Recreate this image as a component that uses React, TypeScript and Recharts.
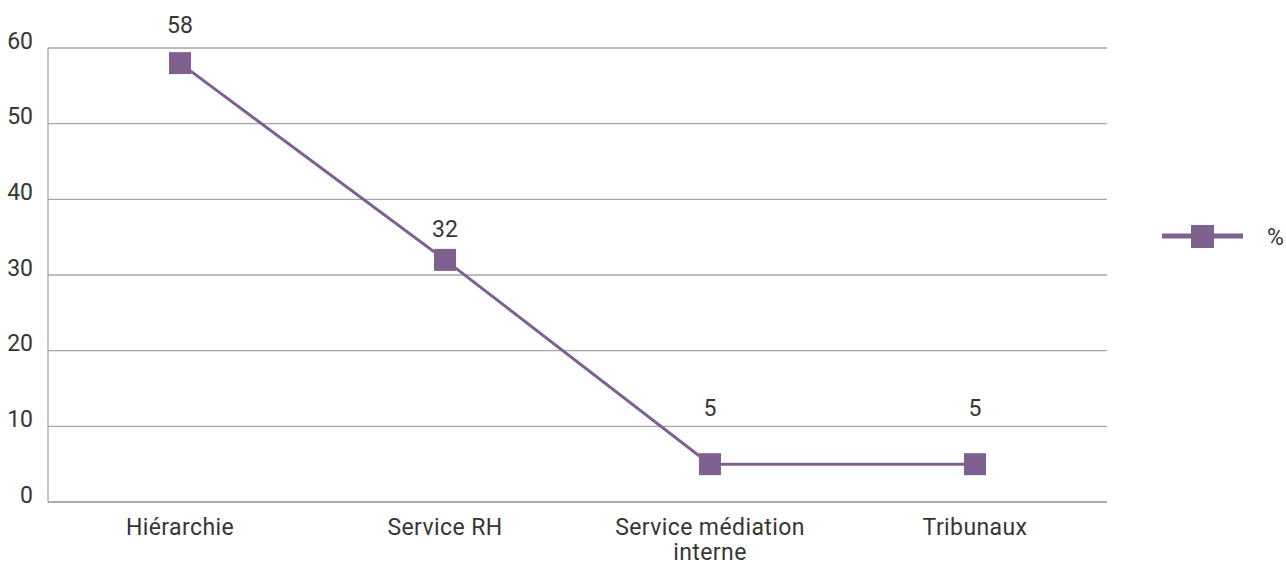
import React from 'react';
import { LineChart, Line, XAxis, YAxis, CartesianGrid, Legend, LabelList } from 'recharts';

const categories = ['Hiérarchie', 'Service RH', 'Service médiation interne', 'Tribunaux'];
const percentValues = [58, 32, 5, 5];
const yTicks = [0, 10, 20, 30, 40, 50, 60];
const seriesName = '%';

const chartData = categories.map((name, i) => ({ name, value: percentValues[i] }));

const PURPLE = '#7f6190';
const GRID = '#a6a6a6';
const TEXT = '#363636';
const FONT = 'Roboto, sans-serif';
const FS = 23;
// label distance above each point, as drawn in the reference
const labelLift = [38, 30, 56, 56];

// greedy word wrap for the category labels
const wrap = (s: string, max = 18) => {
  const lines: string[] = [];
  let cur = '';
  s.split(' ').forEach(w => {
    if (cur && (cur + ' ' + w).length > max) {
      lines.push(cur);
      cur = w;
    } else {
      cur = cur ? cur + ' ' + w : w;
    }
  });
  if (cur) lines.push(cur);
  return lines;
};

const SquareDot = (props: any) => {
  const { cx, cy } = props;
  if (cx == null || cy == null) return null;
  return <rect x={cx - 11} y={cy - 11} width={22} height={22} fill={PURPLE} />;
};

const YTick = (props: any) => {
  const { x, y, payload } = props;
  return (
    <text x={x - 7} y={y - 7} textAnchor="end" dominantBaseline="central" fill={TEXT} fontSize={FS} fontFamily={FONT}>
      {payload.value}
    </text>
  );
};

const XTick = (props: any) => {
  const { x, y, payload } = props;
  return (
    <text x={x} y={y + 17} textAnchor="middle" dominantBaseline="central" fill={TEXT} fontSize={FS} fontFamily={FONT} letterSpacing={0.4}>
      {wrap(payload.value).map((line, i) => (
        <tspan key={i} x={x} dy={i === 0 ? 0 : 25}>
          {line}
        </tspan>
      ))}
    </text>
  );
};

const PointLabel = (props: any) => {
  const { x, y, value, index } = props;
  return (
    <text x={x} y={y - labelLift[index]} textAnchor="middle" dominantBaseline="central" fill={TEXT} fontSize={FS} fontFamily={FONT}>
      {value}
    </text>
  );
};

const LegendBox = () => (
  <svg width={126} height={26} style={{ display: 'block' }}>
    <line x1={2} y1={13} x2={83} y2={13} stroke={PURPLE} strokeWidth={5} />
    <rect x={31} y={2} width={23} height={23} fill={PURPLE} />
    <text x={107} y={14} dominantBaseline="central" fill={TEXT} fontSize={FS} fontFamily={FONT}>
      {seriesName}
    </text>
  </svg>
);

export default function App() {
  return (
    <div style={{ position: 'absolute', left: 0, top: 0, background: '#fff' }}>
      <LineChart width={1286} height={566} data={chartData} margin={{ top: 48, right: 53, bottom: 0, left: 0 }}>
        <CartesianGrid vertical={false} stroke={GRID} strokeWidth={1.3} />
        <XAxis
          dataKey="name"
          height={64}
          padding={{ left: 132, right: 132 }}
          axisLine={{ stroke: GRID, strokeWidth: 1.3 }}
          tickLine={false}
          interval={0}
          tick={<XTick />}
        />
        <YAxis
          width={48}
          domain={[0, 60]}
          ticks={yTicks}
          axisLine={{ stroke: GRID, strokeWidth: 1.3 }}
          tickLine={false}
          tick={<YTick />}
        />
        <Legend
          layout="vertical"
          align="right"
          verticalAlign="middle"
          content={<LegendBox />}
          wrapperStyle={{ top: 223, right: 0, width: 126 }}
        />
        <Line
          dataKey="value"
          name={seriesName}
          stroke={PURPLE}
          strokeWidth={3}
          dot={<SquareDot />}
          activeDot={false}
          isAnimationActive={false}
        >
          <LabelList dataKey="value" content={<PointLabel />} />
        </Line>
      </LineChart>
    </div>
  );
}
